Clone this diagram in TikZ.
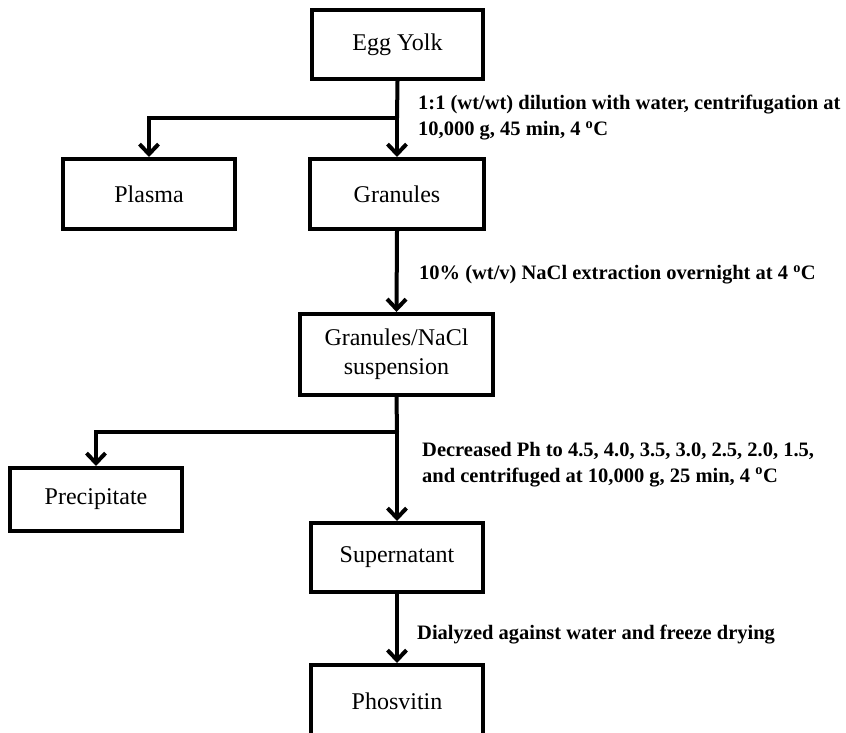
\documentclass[tikz,border=0pt]{standalone}
\usepackage{fontspec}
\setmainfont{Liberation Serif}
\usetikzlibrary{arrows.meta}
\begin{document}
\begin{tikzpicture}[x=1pt,y=-1pt,
  box/.style={draw,line width=4pt,inner sep=0pt,align=center,font=\fontsize{24}{29}\selectfont},
  lab/.style={anchor=west,align=left,inner sep=0pt,font=\bfseries\fontsize{20.5}{26}\selectfont},
  ln/.style={line width=4pt},
  arr/.style={line width=4pt,-{Straight Barb[length=10pt,width=19pt,line width=4pt]}}]
\useasboundingbox (0,0) rectangle (846,732);
\node[box,minimum width=171pt,minimum height=69pt] (yolk) at (397.5,44.5) {Egg Yolk};
\node[box,minimum width=172pt,minimum height=70pt] (plasma) at (149,194) {Plasma};
\node[box,minimum width=174pt,minimum height=70pt] (gran) at (397,194) {Granules};
\node[box,minimum width=193pt,minimum height=81pt] (nacl) at (396.5,354.5) {Granules/NaCl\\suspension};
\node[box,minimum width=172pt,minimum height=63pt] (prec) at (96,499.5) {Precipitate};
\node[box,minimum width=172pt,minimum height=69pt] (sup) at (397,557.5) {Supernatant};
\node[box,minimum width=172pt,minimum height=72pt] (phos) at (397,701) {Phosvitin};
\coordinate (b1) at (397,118);
\coordinate (b2) at (397,432);
\draw[ln] (yolk.south) -- (b1);
\draw[arr] (b1) -- (gran.north);
\draw[arr] (b1) -| (plasma.north);
\draw[arr] (gran.south) -- (nacl.north);
\draw[ln] (nacl.south) -- (b2);
\draw[arr] (b2) -- (sup.north);
\draw[arr] (b2) -| (prec.north);
\draw[arr] (sup.south) -- (phos.north);
\node[lab] (l1) at (418,118) {1:1 (wt/wt) dilution with water, centrifugation at\\10,000 g, 45 min, 4 \textsuperscript{o}C};
\node[lab] (l2) at (419,275) {10\% (wt/v) NaCl extraction overnight at 4 \textsuperscript{o}C};
\node[lab] (l3) at (422,464.5) {Decreased Ph to 4.5, 4.0, 3.5, 3.0, 2.5, 2.0, 1.5,\\and centrifuged at 10,000 g, 25 min, 4 \textsuperscript{o}C};
\node[lab] (l4) at (417,635) {Dialyzed against water and freeze drying};
\end{tikzpicture}
\end{document}
